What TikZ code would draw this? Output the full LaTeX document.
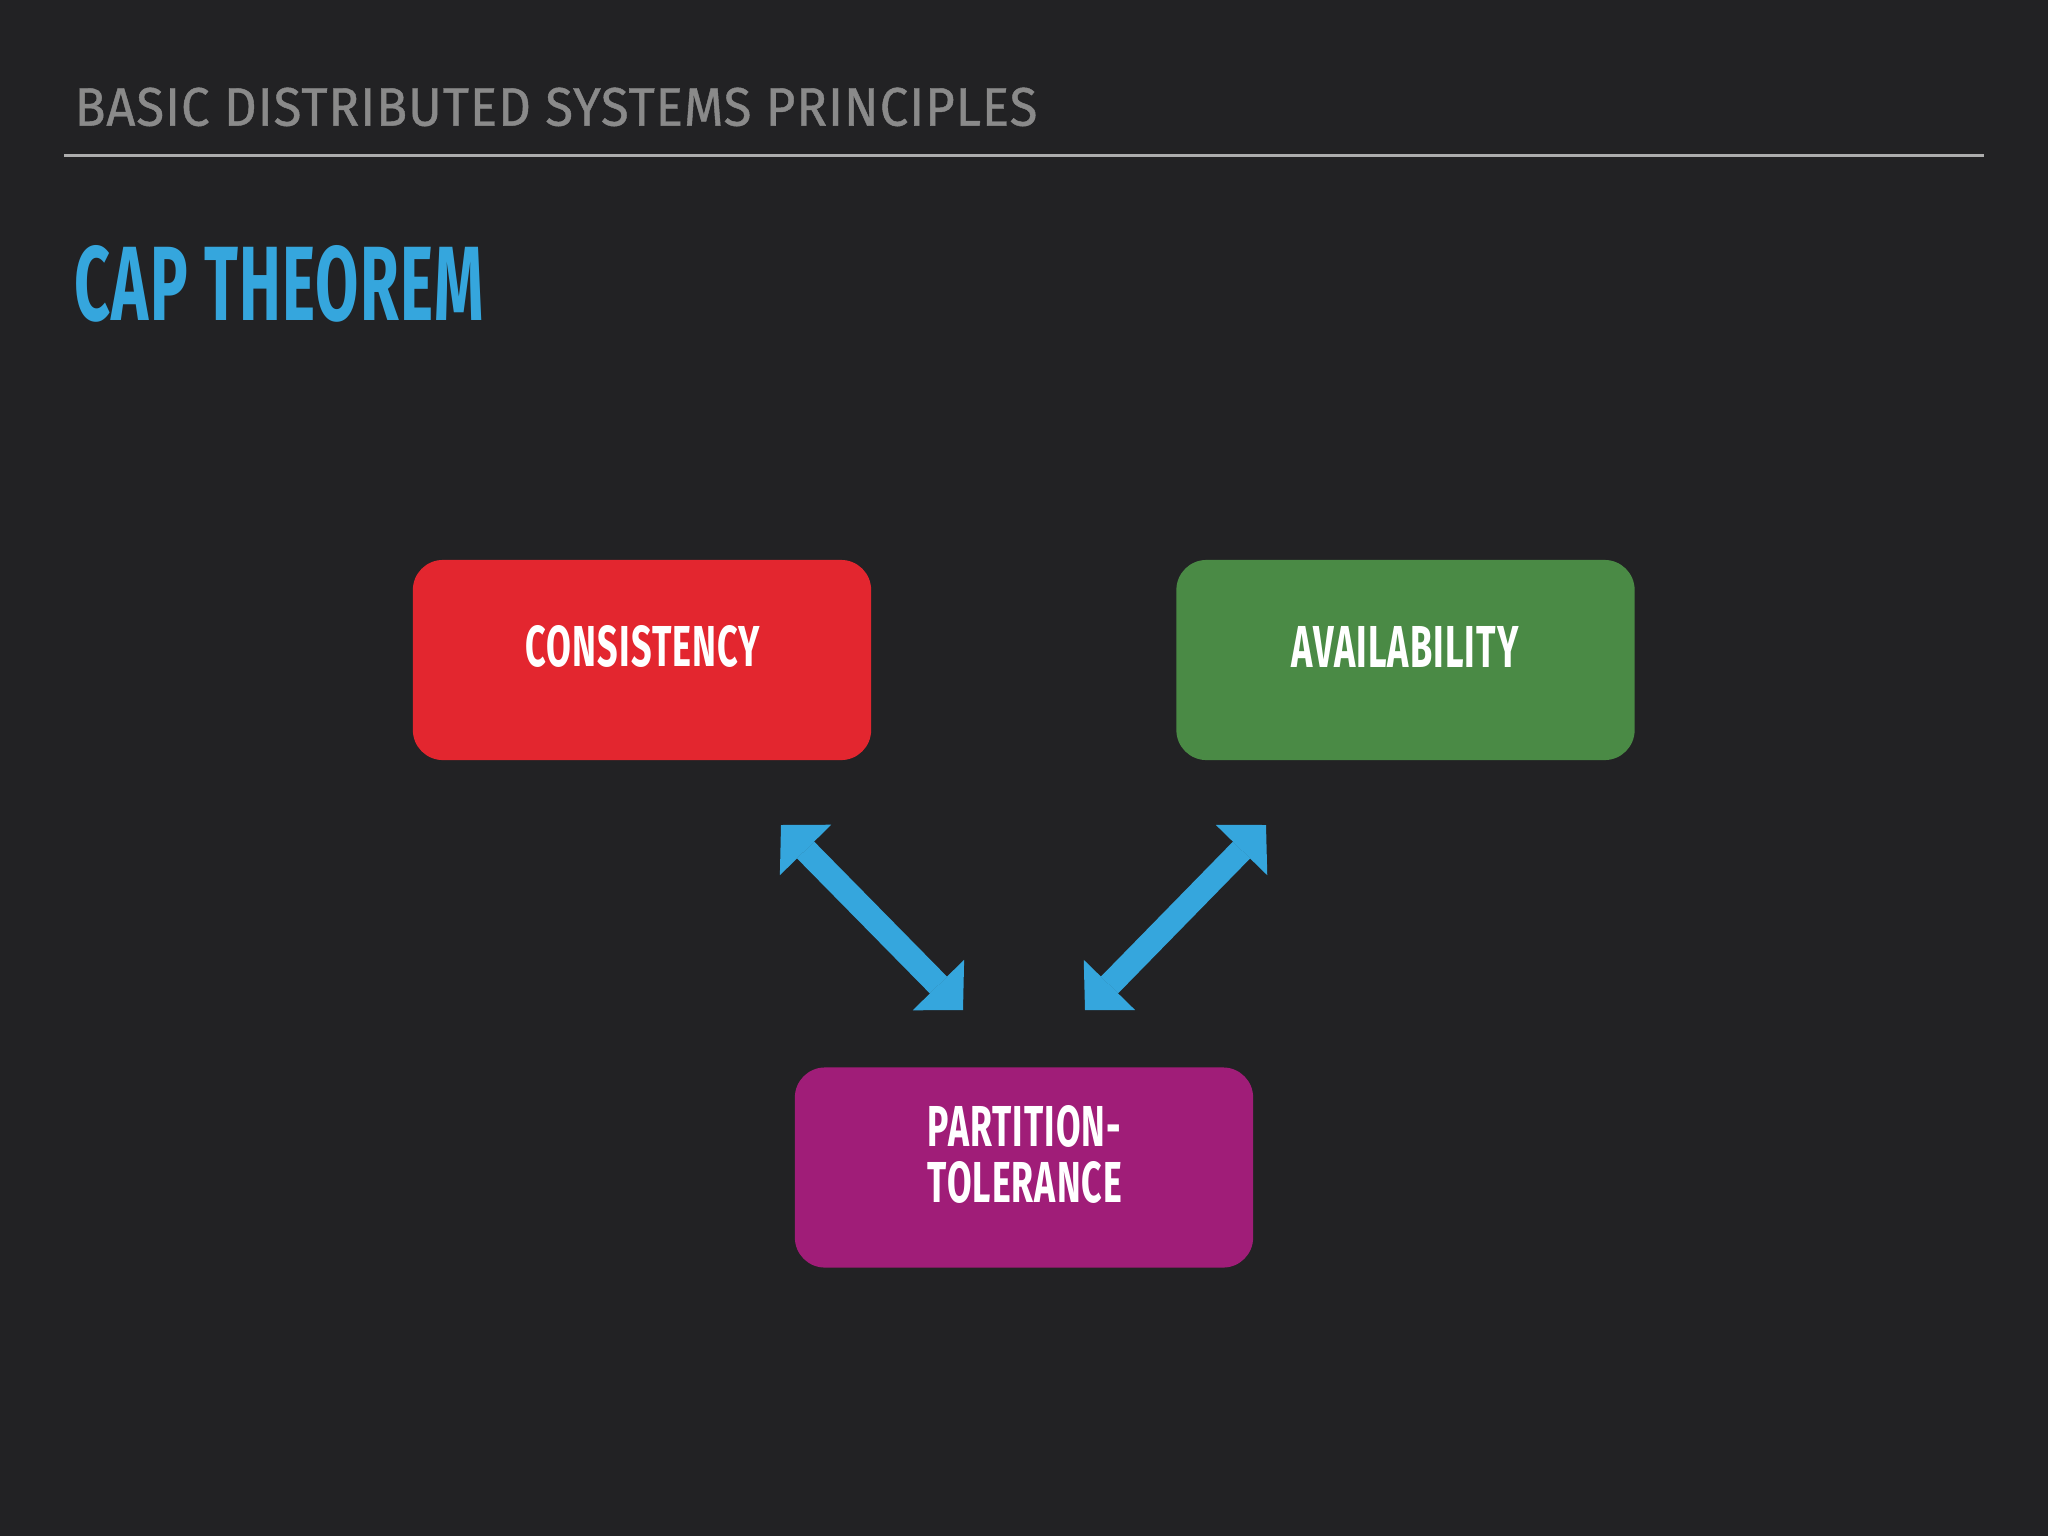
\documentclass[tikz,border=0pt]{standalone}
\usepackage{fontspec}
\setmainfont{Fira Sans}
\usetikzlibrary{arrows.meta}
\definecolor{bgc}{HTML}{222224}
\definecolor{hdrc}{HTML}{8A8A8A}
\definecolor{rulec}{HTML}{ADADAD}
\definecolor{capblue}{HTML}{35A6DD}
\definecolor{cred}{HTML}{E3262F}
\definecolor{cgreen}{HTML}{4A8A45}
\definecolor{cpurple}{HTML}{A01D78}
\tikzset{
  boxnode/.style={rectangle, rounded corners=0.3cm, draw=none, minimum width=4.58cm, minimum height=2.0cm, inner sep=0pt},
  lbl/.style={inner sep=0pt, text=white, font=\bfseries\addfontfeatures{LetterSpace=3}},
  caparrow/.style={draw=capblue, line width=0.24cm,
    {Triangle[length=0.35cm,width=0.72cm,line width=0pt]}-{Triangle[length=0.35cm,width=0.72cm,line width=0pt]}}
}
\begin{document}
\begin{tikzpicture}[x=0.01cm,y=-0.01cm]
\fill[bgc] (0,0) rectangle (2048,1536);
\useasboundingbox (0,0) rectangle (2048,1536);
% header
\node[anchor=south west, inner sep=0pt, text=hdrc, font=\addfontfeatures{LetterSpace=2,FakeBold=0.8}] (header) at (74,127)
  {\resizebox{9.62cm}{0.38cm}{BASIC DISTRIBUTED SYSTEMS PRINCIPLES}};
\draw[rulec, line width=0.03cm] (64,155) -- (1984,155);
% title
\node[anchor=south west, inner sep=0pt, text=capblue, font=\bfseries\addfontfeatures{LetterSpace=2}] (title) at (74,323)
  {\resizebox{4.09cm}{0.75cm}{CAP THEOREM}};
% boxes
\node[boxnode, fill=cred] (cons) at (642,660) {};
\node[boxnode, fill=cgreen] (avail) at (1405.5,660) {};
\node[boxnode, fill=cpurple] (part) at (1024,1167.5) {};
% labels
\node[lbl] (consl) at (643,646.5) {\resizebox{2.34cm}{0.41cm}{CONSISTENCY}};
\node[lbl] (availl) at (1405,646.5) {\resizebox{2.27cm}{0.41cm}{AVAILABILITY}};
\node[lbl] (partl1) at (1024.5,1126.5) {\resizebox{1.93cm}{0.41cm}{PARTITION-}};
\node[lbl] (partl2) at (1025,1182.5) {\resizebox{1.94cm}{0.41cm}{TOLERANCE}};
% arrow ends
\coordinate (ca) at (781,825);
\coordinate (pa) at (963,1010);
\coordinate (aa) at (1266,825);
\coordinate (pb) at (1085,1010);
\draw[caparrow] (ca) -- (pa);
\draw[caparrow] (aa) -- (pb);
\end{tikzpicture}
\end{document}
